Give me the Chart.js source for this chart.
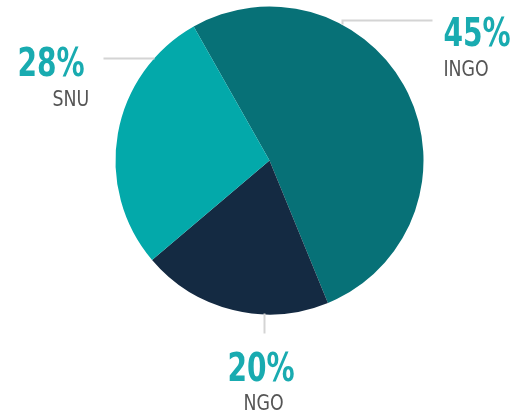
<!DOCTYPE html>
<html>
<head>
<meta charset="utf-8">
<script src="https://cdn.jsdelivr.net/npm/chart.js@4/dist/chart.umd.min.js"></script>
<style>
  html, body { margin: 0; padding: 0; background: #fff; }
  #wrap { width: 527px; height: 417px; }
</style>
</head>
<body>
<div id="wrap"><canvas id="pie" width="527" height="417"></canvas></div>
<script>
// slices clockwise starting near the top
const categories = ['INGO', 'NGO', 'SNU'];
const shares = [52, 20, 28];           // slice sizes as drawn
const shareLabels = ['45%', '20%', '28%']; // text printed next to each slice
const colors = ['#077177', '#142a42', '#03a9aa'];

const LABEL_FONT = '"DejaVu Sans Condensed", "Liberation Sans", sans-serif';

// leader line + text placement, offsets relative to pie centre (dx, dy) in px
const callouts = {
    INGO: { line: [[73, -136], [73, -140], [163, -140]], pct: [174, -115], name: [174, -85] },
    SNU:  { line: [[-115, -102], [-166, -102]], pct: [-252, -85], name: [-217, -55] },
    NGO:  { line: [[-5, 153], [-5, 173]], pct: [-42, 220], name: [-26, 249] }
};

// draw text squeezed horizontally (no narrow font installed)
function squeezed(ctx, text, x, y, sx) {
    ctx.save();
    ctx.translate(x, y);
    ctx.scale(sx, 1);
    ctx.fillText(text, 0, 0);
    ctx.restore();
}

const calloutPlugin = {
    id: 'callouts',
    afterDatasetsDraw(chart) {
        const ctx = chart.ctx;
        const arc = chart.getDatasetMeta(0).data[0];
        const cx = arc.x, cy = arc.y;
        ctx.save();
        categories.forEach((cat, i) => {
            const c = callouts[cat];
            ctx.strokeStyle = '#d4d4d4';
            ctx.lineWidth = 2;
            ctx.beginPath();
            c.line.forEach(([dx, dy], k) => {
                if (k === 0) ctx.moveTo(cx + dx, cy + dy);
                else ctx.lineTo(cx + dx, cy + dy);
            });
            ctx.stroke();

            ctx.textAlign = 'left';
            ctx.textBaseline = 'alphabetic';
            ctx.fillStyle = '#19abb0';
            ctx.font = 'bold 39px ' + LABEL_FONT;
            squeezed(ctx, shareLabels[i], cx + c.pct[0], cy + c.pct[1], 0.8);
            ctx.fillStyle = '#555555';
            ctx.font = '21px ' + LABEL_FONT;
            squeezed(ctx, cat, cx + c.name[0], cy + c.name[1], 0.92);
        });
        ctx.restore();
    }
};

new Chart(document.getElementById('pie'), {
    type: 'pie',
    data: {
        labels: categories,
        datasets: [{
            data: shares,
            backgroundColor: colors,
            borderWidth: 0
        }]
    },
    options: {
        responsive: false,
        animation: false,
        rotation: -29.5,
        layout: {
            padding: { top: 6.5, bottom: 102.5, left: 115.5, right: 103.5 }
        },
        plugins: {
            legend: { display: false },
            tooltip: { enabled: false }
        }
    },
    plugins: [calloutPlugin]
});
</script>
</body>
</html>
